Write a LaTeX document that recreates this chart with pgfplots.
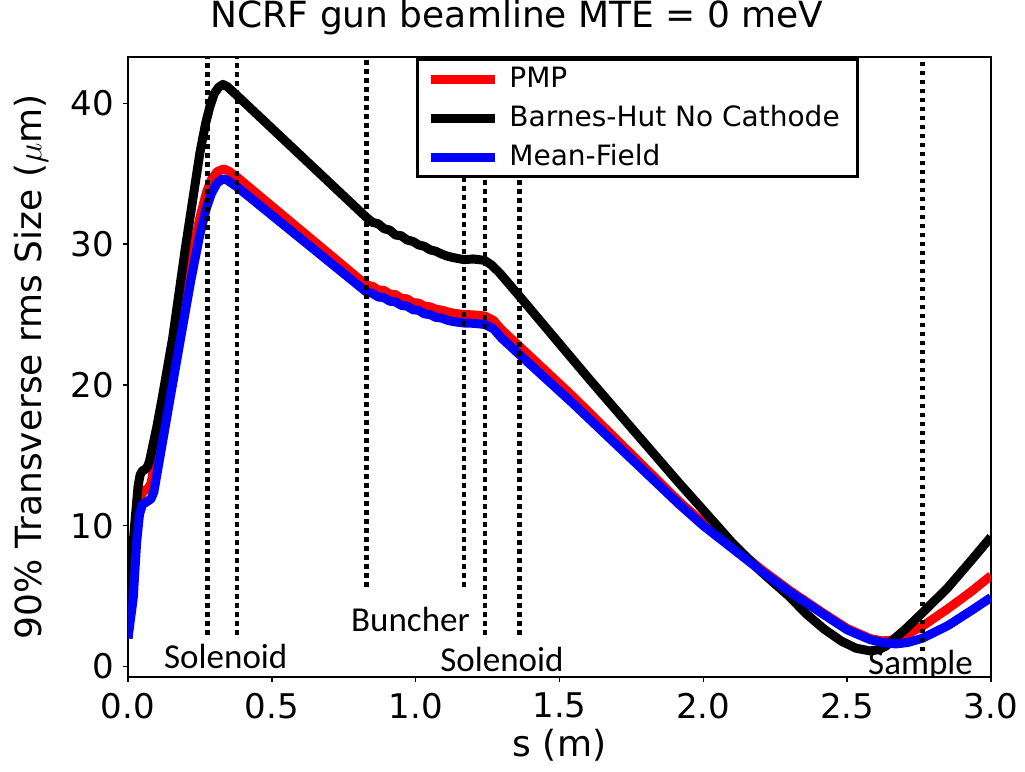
\documentclass[border=0pt]{standalone}
\usepackage{fontspec}
\setmainfont{DejaVu Sans}
\newfontfamily\carlito{Carlito}
\usepackage{pgfplots}
\pgfplotsset{compat=1.18}
\begin{document}
\begin{tikzpicture}
\begin{axis}[
  scale only axis, width=431.5pt, height=310pt,
  xmin=0, xmax=3, ymin=-0.75, ymax=43.3,
  xtick={0,0.5,1,1.5,2,2.5,3}, ytick={0,10,20,30,40},
  tick pos=left, tick align=outside, major tick length=2.5pt,
  axis line style={line width=0.8pt}, tick style={line width=0.8pt, black},
  xticklabel style={/pgf/number format/fixed, /pgf/number format/fixed zerofill, /pgf/number format/precision=1, yshift=-2pt},
  /pgf/number format/assume math mode=true,
  ticklabel style={font=\fontsize{17}{19}\selectfont},
  yticklabel style={xshift=-1pt},
  xlabel={s (m)},
  xlabel style={font=\fontsize{18}{20}\selectfont, inner sep=0pt, at={(axis description cs:0.5,-0.1097)}, anchor=center},
  ylabel={90\% Transverse rms Size ($\mu$m)},
  ylabel style={font=\fontsize{18}{20}\selectfont, inner sep=0pt, at={(axis description cs:-0.1124,0.5)}, anchor=center},
  title={NCRF gun beamline MTE = 0 meV},
  title style={font=\fontsize{18}{20}\selectfont, inner sep=0pt, at={(axis description cs:0.451,1)}, anchor=base, yshift=8.5pt},
  legend style={at={(axis description cs:0.334,0.998)}, anchor=north west, draw=black, line width=1.6pt, fill=white,
    font=\fontsize{14}{16}\selectfont, inner xsep=4pt, inner ysep=1pt, row sep=2pt, column sep=0pt,
    nodes={inner xsep=5pt, inner ysep=2pt, text height=11pt, text depth=2.5pt}},
  legend cell align=left,
  legend image code/.code={\draw[#1, line width=4.8pt, line cap=butt] (0pt,0pt) -- (32pt,0pt);},
  every axis plot/.append style={line join=round},
]
\addplot[red, line width=4.5pt] coordinates {
(0,2.0) (0.005,3.2) (0.015,5.6) (0.025,8.6) (0.035,10.9) (0.045,12.1) (0.055,12.5) (0.068,12.6) (0.08,13.0)
(0.1,15.3) (0.146,20.4) (0.181,24.5) (0.22,28.9) (0.25,31.9) (0.273,33.7) (0.29,34.6) (0.31,35.15) (0.333,35.35)
(0.35,35.2) (0.377,34.8) (0.829,27.1)
(0.85,27.0) (0.87,26.75) (0.89,26.72) (0.91,26.45) (0.93,26.42) (0.95,26.15) (0.97,26.12) (0.99,25.85) (1.01,25.82)
(1.03,25.6) (1.05,25.55) (1.07,25.38) (1.09,25.32) (1.11,25.2) (1.13,25.1) (1.168,25.0) (1.20,24.98) (1.24,24.9)
(1.27,24.6) (1.30,23.9) (1.361,22.74) (1.546,19.2) (1.917,11.7) (2.0,10.2) (2.1,8.58) (2.2,6.92) (2.3,5.4)
(2.414,3.83) (2.5,2.7) (2.58,1.98) (2.62,1.82) (2.65,1.85) (2.70,2.2) (2.761,2.85) (2.85,4.1) (2.93,5.3) (3.0,6.45)
};
\addlegendentry{PMP}
\addplot[black, line width=4.5pt] coordinates {
(0,2.0) (0.003,5.5) (0.013,7.5) (0.025,10.5) (0.035,12.8) (0.042,13.6) (0.05,13.9) (0.06,14.0) (0.068,14.2)
(0.075,14.6) (0.10,17.0) (0.12,19.2) (0.155,23.3) (0.20,29.8) (0.25,36.5) (0.27,38.6) (0.285,39.8) (0.30,40.7)
(0.315,41.15) (0.33,41.35) (0.345,41.2) (0.377,40.6) (0.829,31.9)
(0.85,31.55) (0.87,31.45) (0.89,31.1) (0.91,31.0) (0.93,30.65) (0.95,30.6) (0.97,30.3) (0.99,30.2) (1.01,29.95)
(1.03,29.85) (1.05,29.6) (1.07,29.5) (1.09,29.3) (1.11,29.15) (1.13,29.05) (1.168,28.9) (1.20,28.95) (1.24,28.85)
(1.265,28.5) (1.292,27.95) (1.361,26.3) (1.604,20.4) (1.917,13.0) (2.0,11.1) (2.1,8.8) (2.2,6.75) (2.3,4.95)
(2.357,3.75) (2.42,2.65) (2.48,1.8) (2.53,1.3) (2.58,1.1) (2.61,1.2) (2.635,1.45) (2.657,1.85) (2.70,2.6) (2.761,3.8)
(2.85,5.6) (2.93,7.5) (3.0,9.2)
};
\addlegendentry{Barnes-Hut No Cathode}
\addplot[blue, line width=4.5pt] coordinates {
(0,2.0) (0.005,2.8) (0.018,4.8) (0.03,8.8) (0.04,10.8) (0.05,11.5) (0.065,11.7) (0.08,11.9) (0.09,12.4)
(0.146,19.0) (0.181,23.1) (0.22,27.6) (0.25,30.7) (0.273,32.6) (0.29,33.6) (0.31,34.35) (0.33,34.65) (0.345,34.55)
(0.377,34.1) (0.829,26.6)
(0.85,26.5) (0.87,26.25) (0.89,26.2) (0.91,25.95) (0.93,25.9) (0.95,25.65) (0.97,25.6) (0.99,25.35) (1.01,25.3)
(1.03,25.05) (1.05,25.0) (1.07,24.8) (1.09,24.75) (1.11,24.6) (1.13,24.5) (1.168,24.4) (1.20,24.38) (1.24,24.3)
(1.27,24.0) (1.30,23.3) (1.361,22.15) (1.546,18.7) (1.917,11.5) (2.0,10.0) (2.1,8.4) (2.2,6.8) (2.3,5.3)
(2.414,3.75) (2.5,2.6) (2.58,1.9) (2.63,1.68) (2.669,1.6) (2.71,1.7) (2.761,2.0) (2.85,2.9) (2.93,3.95) (3.0,4.9)
};
\addlegendentry{Mean-Field}
\addplot[black, line width=2.2pt, dash pattern=on 2.3pt off 2.2pt, forget plot] coordinates {(0.277,2.25) (0.277,44)};
\addplot[black, line width=2.2pt, dash pattern=on 2.3pt off 2.2pt, forget plot] coordinates {(0.378,2.25) (0.378,44)};
\addplot[black, line width=2.2pt, dash pattern=on 2.3pt off 2.2pt, forget plot] coordinates {(0.829,5.65) (0.829,44)};
\addplot[black, line width=2.2pt, dash pattern=on 2.3pt off 2.2pt, forget plot] coordinates {(1.168,5.65) (1.168,44)};
\addplot[black, line width=2.2pt, dash pattern=on 2.3pt off 2.2pt, forget plot] coordinates {(1.242,2.25) (1.242,44)};
\addplot[black, line width=2.2pt, dash pattern=on 2.3pt off 2.2pt, forget plot] coordinates {(1.361,2.25) (1.361,44)};
\addplot[black, line width=2.2pt, dash pattern=on 2.3pt off 2.2pt, forget plot] coordinates {(2.762,1.07) (2.762,44)};
\node[font=\carlito\fontsize{17.5}{20}\selectfont, anchor=base] at (axis cs:0.340,-0.15) {Solenoid};
\node[font=\carlito\fontsize{17.5}{20}\selectfont, anchor=base] at (axis cs:0.982,2.49) {Buncher};
\node[font=\carlito\fontsize{17.5}{20}\selectfont, anchor=base] at (axis cs:1.300,-0.35) {Solenoid};
\node[font=\carlito\fontsize{17.5}{20}\selectfont, anchor=base] at (axis cs:2.755,-0.55) {Sample};
\end{axis}
\path ([shift={(-64pt,-47pt)}]current axis.south west) rectangle ([shift={(17pt,28.5pt)}]current axis.north east);
\end{tikzpicture}
\end{document}
